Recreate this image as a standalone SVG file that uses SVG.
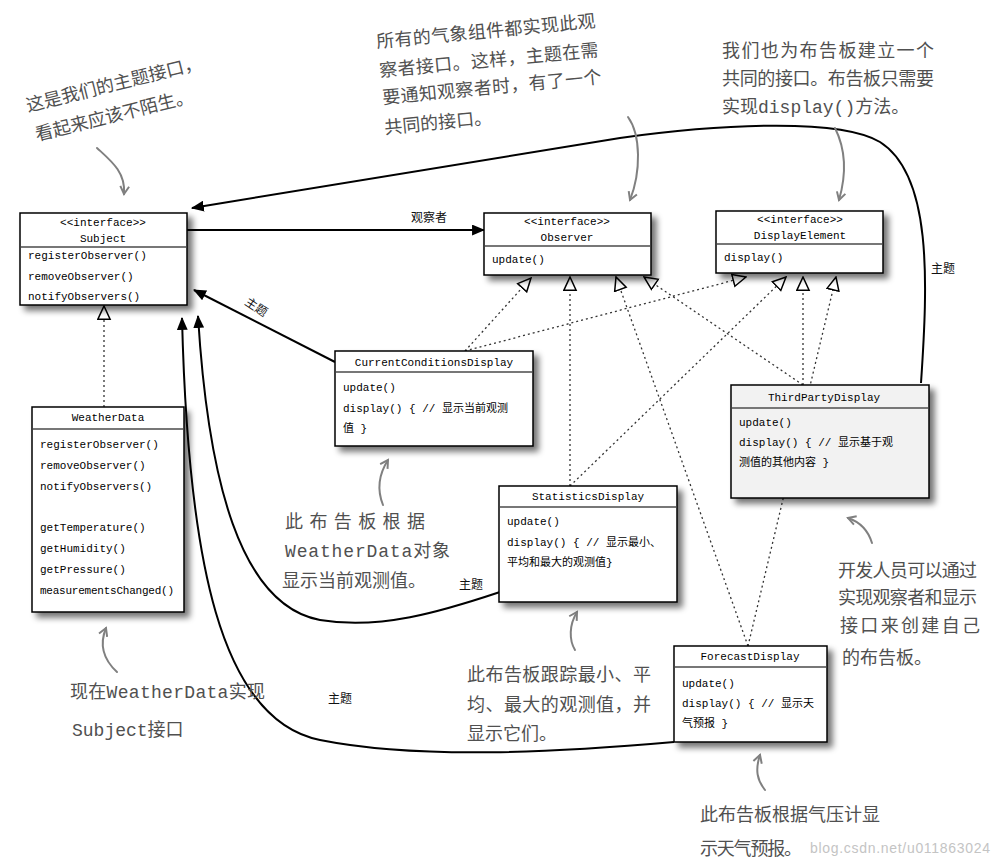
<svg xmlns="http://www.w3.org/2000/svg" width="998" height="867" viewBox="0 0 998 867">
<style>
.box{fill:#fff;stroke:#000;stroke-width:1.5}
.gbox{fill:#f2f2f2;stroke:#000;stroke-width:1.5}
.div{stroke:#777;stroke-width:2}
.m{font-family:"Liberation Mono","Noto Sans CJK SC",monospace;font-size:11px;fill:#000}
.c{text-anchor:middle}
.a{font-family:"Liberation Mono","Noto Sans CJK SC",sans-serif;font-size:18px;fill:#505050}
.l{font-family:"Noto Sans CJK SC",sans-serif;font-size:12px;fill:#111}
.solid{fill:none;stroke:#000;stroke-width:2}
.dot{fill:none;stroke:#333;stroke-width:1.3;stroke-dasharray:2 3}
.hand{fill:none;stroke:#808080;stroke-width:2;stroke-linecap:round}
.wm{font-family:"Liberation Sans",sans-serif;font-size:14px;fill:#c4c4c4}
</style>
<defs>
<filter id="sh" x="-10%" y="-10%" width="130%" height="130%">
<feGaussianBlur in="SourceAlpha" stdDeviation="3"/>
<feOffset dx="5" dy="5" result="o"/>
<feComponentTransfer><feFuncA type="linear" slope="0.55"/></feComponentTransfer>
<feMerge><feMergeNode/><feMergeNode in="SourceGraphic"/></feMerge>
</filter>
<marker id="fa" viewBox="0 0 12 10" refX="11" refY="5" markerWidth="13" markerHeight="11" markerUnits="userSpaceOnUse" orient="auto"><path d="M0,0 L12,5 L0,10 Z" fill="#000"/></marker>
<marker id="ht" viewBox="0 0 16 16" refX="15" refY="8" markerWidth="15" markerHeight="15" markerUnits="userSpaceOnUse" orient="auto"><path d="M1,1.5 L15,8 L1,14.5 Z" fill="#fff" stroke="#000" stroke-width="1.6"/></marker>
<marker id="hd" viewBox="0 0 10 10" refX="8" refY="5" markerWidth="11" markerHeight="11" markerUnits="userSpaceOnUse" orient="auto"><path d="M1,1 L8,5 L1,9" fill="none" stroke="#808080" stroke-width="1.8"/></marker>
</defs>
<rect width="998" height="867" fill="#fff"/>

<g id="connectors">
<!-- realization (dotted) -->
<line class="dot" x1="104" y1="407" x2="104" y2="306" marker-end="url(#ht)"/>
<line class="dot" x1="465" y1="351" x2="531" y2="278" marker-end="url(#ht)"/>
<line class="dot" x1="465" y1="351" x2="746" y2="277" marker-end="url(#ht)"/>
<line class="dot" x1="570" y1="486" x2="570" y2="277" marker-end="url(#ht)"/>
<line class="dot" x1="570" y1="486" x2="786" y2="277" marker-end="url(#ht)"/>
<line class="dot" x1="748" y1="646" x2="616" y2="277" marker-end="url(#ht)"/>
<line class="dot" x1="748" y1="646" x2="836" y2="277" marker-end="url(#ht)"/>
<line class="dot" x1="803" y1="385" x2="644" y2="277" marker-end="url(#ht)"/>
<line class="dot" x1="803" y1="385" x2="803" y2="277" marker-end="url(#ht)"/>
<!-- associations -->
<line class="solid" x1="187" y1="230" x2="484" y2="230" marker-end="url(#fa)"/>
<text class="l" x="411" y="222" font-size="11">观察者</text>
<line class="solid" x1="335" y1="362" x2="194" y2="290" marker-end="url(#fa)"/>
<text class="l" x="244" y="304" transform="rotate(33 244 304)">主题</text>
<path class="solid" d="M921,383 C928,280 932,175 880,142 C840,118 720,124 620,138 L192,208" marker-end="url(#fa)"/>
<text class="l" x="931" y="273" font-size="13">主题</text>
<path class="solid" d="M500,592 C440,612 380,630 320,620 C240,605 208,480 198,316" marker-end="url(#fa)"/>
<text class="l" x="459" y="589" font-size="13">主题</text>
<path class="solid" d="M674,742 C560,752 420,760 320,740 C220,720 188,560 182,318" marker-end="url(#fa)"/>
<text class="l" x="328" y="703" font-size="13">主题</text>
<!-- hand drawn annotation arrows -->
<path class="hand" d="M97,148 C110,160 126,172 124,194" marker-end="url(#hd)"/>
<path class="hand" d="M628,117 C641,135 641,172 630,200" marker-end="url(#hd)"/>
<path class="hand" d="M835,128 C846,150 846,176 839,200" marker-end="url(#hd)"/>
<path class="hand" d="M383,505 C377,490 379,474 388,460" marker-end="url(#hd)"/>
<path class="hand" d="M575,650 C569,640 569,625 577,612" marker-end="url(#hd)"/>
<path class="hand" d="M872,543 C868,530 860,522 848,518" marker-end="url(#hd)"/>
<path class="hand" d="M117,672 C104,660 99,645 106,628" marker-end="url(#hd)"/>
<path class="hand" d="M765,790 C757,780 755,770 760,755" marker-end="url(#hd)"/>
</g>

<g id="Subject">
<rect class="box" x="20" y="213" width="167" height="92" filter="url(#sh)"/>
<line class="div" x1="21" y1="247" x2="186" y2="247"/>
<text class="m c" x="103" y="226">&lt;&lt;interface&gt;&gt;</text>
<text class="m c" x="103" y="242">Subject</text>
<text class="m" x="28" y="259">registerObserver()</text>
<text class="m" x="28" y="280">removeObserver()</text>
<text class="m" x="28" y="300">notifyObservers()</text>
</g>

<g id="Observer">
<rect class="box" x="484" y="213" width="167" height="62" filter="url(#sh)"/>
<line class="div" x1="485" y1="246" x2="650" y2="246"/>
<text class="m c" x="567" y="225">&lt;&lt;interface&gt;&gt;</text>
<text class="m c" x="567" y="241">Observer</text>
<text class="m" x="492" y="263">update()</text>
</g>

<g id="DisplayElement">
<rect class="box" x="716" y="211" width="167" height="62" filter="url(#sh)"/>
<line class="div" x1="717" y1="244" x2="882" y2="244"/>
<text class="m c" x="800" y="223">&lt;&lt;interface&gt;&gt;</text>
<text class="m c" x="800" y="239">DisplayElement</text>
<text class="m" x="724" y="261">display()</text>
</g>

<g id="WeatherData">
<rect class="box" x="32" y="407" width="152" height="205" filter="url(#sh)"/>
<line class="div" x1="33" y1="429" x2="183" y2="429"/>
<text class="m c" x="108" y="421">WeatherData</text>
<text class="m" x="40" y="448">registerObserver()</text>
<text class="m" x="40" y="469">removeObserver()</text>
<text class="m" x="40" y="490">notifyObservers()</text>
<text class="m" x="40" y="531">getTemperature()</text>
<text class="m" x="40" y="552">getHumidity()</text>
<text class="m" x="40" y="573">getPressure()</text>
<text class="m" x="40" y="594" textLength="134">measurementsChanged()</text>
</g>

<g id="CurrentConditionsDisplay">
<rect class="box" x="335" y="351" width="198" height="95" filter="url(#sh)"/>
<line class="div" x1="336" y1="372" x2="532" y2="372"/>
<text class="m c" x="434" y="366">CurrentConditionsDisplay</text>
<text class="m" x="343" y="391">update()</text>
<text class="m" x="343" y="412">display() { // 显示当前观测</text>
<text class="m" x="343" y="432">值 }</text>
</g>

<g id="StatisticsDisplay">
<rect class="box" x="499" y="486" width="178" height="116" filter="url(#sh)"/>
<line class="div" x1="500" y1="507" x2="676" y2="507"/>
<text class="m c" x="588" y="500">StatisticsDisplay</text>
<text class="m" x="507" y="525">update()</text>
<text class="m" x="507" y="546">display() { // 显示最小、</text>
<text class="m" x="507" y="566">平均和最大的观测值}</text>
</g>

<g id="ThirdPartyDisplay">
<rect class="gbox" x="731" y="385" width="198" height="113" filter="url(#sh)"/>
<line class="div" x1="732" y1="408" x2="928" y2="408"/>
<text class="m c" x="824" y="401">ThirdPartyDisplay</text>
<text class="m" x="739" y="426">update()</text>
<text class="m" x="739" y="446">display() { // 显示基于观</text>
<text class="m" x="739" y="466">测值的其他内容 }</text>
</g>

<g id="ForecastDisplay">
<rect class="box" x="674" y="646" width="153" height="96" filter="url(#sh)"/>
<line class="div" x1="675" y1="667" x2="826" y2="667"/>
<text class="m c" x="750" y="660">ForecastDisplay</text>
<text class="m" x="682" y="687">update()</text>
<text class="m" x="682" y="707">display() { // 显示天</text>
<text class="m" x="682" y="727">气预报 }</text>
</g>

<g id="notes">
<text class="a" font-size="17" x="28" y="112" transform="rotate(-14 28 112)">这是我们的主题接口，</text>
<text class="a" font-size="17" x="37" y="141" transform="rotate(-14 37 141)">看起来应该不陌生。</text>

<text class="a" x="377" y="48" transform="rotate(-5.5 377 48)" textLength="220">所有的气象组件都实现此观</text>
<text class="a" x="380" y="77" transform="rotate(-5.5 380 77)" textLength="220">察者接口。这样，主题在需</text>
<text class="a" x="383" y="104" transform="rotate(-5.5 383 104)" textLength="220">要通知观察者时，有了一个</text>
<text class="a" x="385" y="134" transform="rotate(-5.5 385 134)">共同的接口。</text>

<text class="a" x="722" y="57" textLength="212">我们也为布告板建立一个</text>
<text class="a" x="722" y="85" textLength="212">共同的接口。布告板只需要</text>
<text class="a" x="722" y="113">实现display()方法。</text>

<text class="a" x="285" y="528" textLength="140">此布告板根据</text>
<text class="a" x="285" y="557" textLength="165">WeatherData对象</text>
<text class="a" x="282" y="587">显示当前观测值。</text>

<text class="a" x="467" y="681" textLength="184">此布告板跟踪最小、平</text>
<text class="a" x="467" y="711" textLength="184">均、最大的观测值，并</text>
<text class="a" x="467" y="740">显示它们。</text>

<text class="a" x="838" y="577" textLength="139">开发人员可以通过</text>
<text class="a" x="838" y="604" textLength="139">实现观察者和显示</text>
<text class="a" x="840" y="632" textLength="140">接口来创建自己</text>
<text class="a" x="842" y="664">的布告板。</text>

<text class="a" x="70" y="698" textLength="195">现在WeatherData实现</text>
<text class="a" x="72" y="736">Subject接口</text>

<text class="a" x="700" y="821" textLength="180">此布告板根据气压计显</text>
<text class="a" x="700" y="855" textLength="102">示天气预报。</text>
<text class="wm" x="990" y="853" text-anchor="end" textLength="180">blog.csdn.net/u011863024</text>
</g>
</svg>
